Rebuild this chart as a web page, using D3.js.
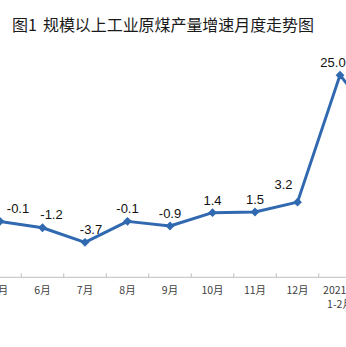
<!DOCTYPE html>
<html>
<head>
<meta charset="utf-8">
<script src="https://cdn.jsdelivr.net/npm/d3@7/dist/d3.min.js"></script>
<style>
  html, body { margin: 0; padding: 0; background: #fff; }
  svg { display: block; }
</style>
</head>
<body>
<div id="chart"></div>
<script>
// Monthly growth of raw coal output (above designated size), %
const months = ["5月", "6月", "7月", "8月", "9月", "10月", "11月", "12月", "2021年\n1-2月", "3月"];
const growth = [-0.1, -1.2, -3.7, -0.1, -0.9, 1.4, 1.5, 3.2, 25.0, 16.0];
const figNo = "图1";
const title = "规模以上工业原煤产量增速月度走势图";

const W = 346, H = 347;
const svg = d3.select("#chart").append("svg")
  .attr("width", W).attr("height", H)
  .attr("viewBox", `0 0 ${W} ${H}`);

const step = 42.5;
const x = d3.scalePoint()
  .domain(months)
  .range([0, step * (months.length - 1)]);

const y = d3.scaleLinear()
  .domain([-9.7, 30])
  .range([277.3, 46]);

const axisY = y(-9.7);

// title: figure number, then caption
const titleFont = "'Noto Sans CJK SC', sans-serif";
svg.append("text")
  .attr("x", 12).attr("y", 31)
  .attr("font-family", titleFont)
  .attr("font-size", 16)
  .attr("fill", "#1a1a1a")
  .text(figNo);
svg.append("text")
  .attr("x", 43).attr("y", 31)
  .attr("font-family", titleFont)
  .attr("font-size", 16)
  .attr("textLength", 271)
  .attr("lengthAdjust", "spacing")
  .attr("fill", "#1a1a1a")
  .text(title);

// category axis: line with boundary ticks pointing upward
const axisG = svg.append("g").attr("transform", `translate(0,${axisY})`);
axisG.append("line")
  .attr("x1", 0).attr("x2", W)
  .attr("stroke", "#bfbfbf").attr("stroke-width", 1);

const bounds = d3.range(-1, months.length).map(i => x(months[0]) + step * (i + 0.5));
axisG.selectAll("line.tick")
  .data(bounds)
  .join("line")
  .attr("class", "tick")
  .attr("x1", d => d).attr("x2", d => d)
  .attr("y1", -4).attr("y2", 0)
  .attr("stroke", "#bfbfbf").attr("stroke-width", 1);

const tickText = axisG.selectAll("text.cat")
  .data(months)
  .join("text")
  .attr("class", "cat")
  .attr("x", d => x(d))
  .attr("y", 17)
  .attr("text-anchor", "middle")
  .attr("font-family", "'Noto Sans CJK SC', sans-serif")
  .attr("font-size", 10.5)
  .attr("fill", "#404040");
tickText.each(function(d) {
  const parts = d.split("\n");
  const t = d3.select(this);
  parts.forEach((p, i) => {
    t.append("tspan").attr("x", x(d)).attr("dy", i === 0 ? 0 : 13.5).text(p);
  });
});

// line
const pts = months.map((m, i) => ({ m, v: growth[i], i }));
const line = d3.line().x(d => x(d.m)).y(d => y(d.v));

svg.append("path")
  .datum(pts)
  .attr("d", line)
  .attr("fill", "none")
  .attr("stroke", "#3169b0")
  .attr("stroke-width", 3)
  .attr("stroke-linejoin", "round");

// diamond markers
const diamond = d3.symbol().type(d3.symbolDiamond2).size(50);
svg.selectAll("path.mk")
  .data(pts)
  .join("path")
  .attr("class", "mk")
  .attr("transform", d => `translate(${x(d.m)},${y(d.v)})`)
  .attr("d", diamond)
  .attr("fill", "#3169b0");

// value labels, nudged off the line where it bends
const nudge = { 1: [9, -1], 2: [6, 0], 7: [-14, -5], 8: [-7, 0] };
svg.selectAll("text.val")
  .data(pts)
  .join("text")
  .attr("class", "val")
  .attr("x", d => {
    const dx = (nudge[d.i] || [0, 0])[0];
    return Math.max(x(d.m) + dx, 18);
  })
  .attr("y", d => y(d.v) - 8 + (nudge[d.i] || [0, 0])[1])
  .attr("text-anchor", "middle")
  .attr("font-family", "'Liberation Sans', Arial, sans-serif")
  .attr("font-size", 13)
  .attr("fill", "#111")
  .text(d => d.v.toFixed(1));
</script>
</body>
</html>
